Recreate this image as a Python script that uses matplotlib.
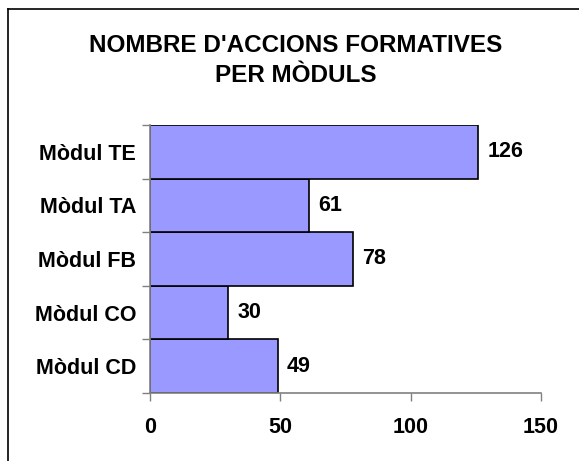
import numpy as np
import matplotlib.pyplot as plt
from matplotlib.lines import Line2D

plt.rcParams['font.family'] = ['Liberation Sans', 'DejaVu Sans']

# data (bottom to top)
moduls = ['Mòdul CD', 'Mòdul CO', 'Mòdul FB', 'Mòdul TA', 'Mòdul TE']
accions = [49, 30, 78, 61, 126]

W, H = 579, 461
fig = plt.figure(figsize=(W / 100, H / 100), dpi=100)
ax = fig.add_axes([150 / W, 1 - 393 / H, (541 - 150) / W, (393 - 125) / H])

y = np.arange(len(moduls))
ax.barh(y, accions, height=1.0, color='#9999FF', edgecolor='black', linewidth=1.2)

for yi, v in zip(y, accions):
    ax.text(v + 3.4, yi, str(v), va='center', ha='left', fontsize=15.5, fontweight='bold')

ax.set_xlim(0, 150)
ax.set_ylim(-0.5, len(moduls) - 0.5)
ax.set_xticks([0, 50, 100, 150])
ax.set_yticks(y)
ax.set_yticklabels(moduls)
ax.set_yticks(np.arange(len(moduls) + 1) - 0.5, minor=True)
ax.tick_params(axis='y', which='major', length=0, pad=10)
ax.tick_params(axis='y', which='minor', length=6, color='#808080', width=1)
ax.tick_params(axis='x', length=6, color='#808080', width=1, pad=11)
for lab in ax.get_xticklabels() + ax.get_yticklabels():
    lab.set_fontweight('bold')
    lab.set_fontsize(15.5)

for s in ['top', 'right']:
    ax.spines[s].set_visible(False)
for s in ['left', 'bottom']:
    ax.spines[s].set_color('#808080')
    ax.spines[s].set_linewidth(1.2)

fig.text(296 / W, 1 - 46 / H, "NOMBRE D'ACCIONS FORMATIVES", ha='center', va='center',
         fontsize=17.5, fontweight='bold')
fig.text(296 / W, 1 - 76 / H, "PER MÒDULS", ha='center', va='center',
         fontsize=17.5, fontweight='bold')

# border (top and left only)
fig.add_artist(Line2D([8 / W, 1], [1 - 9.5 / H, 1 - 9.5 / H], color='black', linewidth=1.2,
                      transform=fig.transFigure))
fig.add_artist(Line2D([8 / W, 8 / W], [0, 1 - 9.5 / H], color='black', linewidth=1.2,
                      transform=fig.transFigure))

fig.savefig('out.png', dpi=100)
